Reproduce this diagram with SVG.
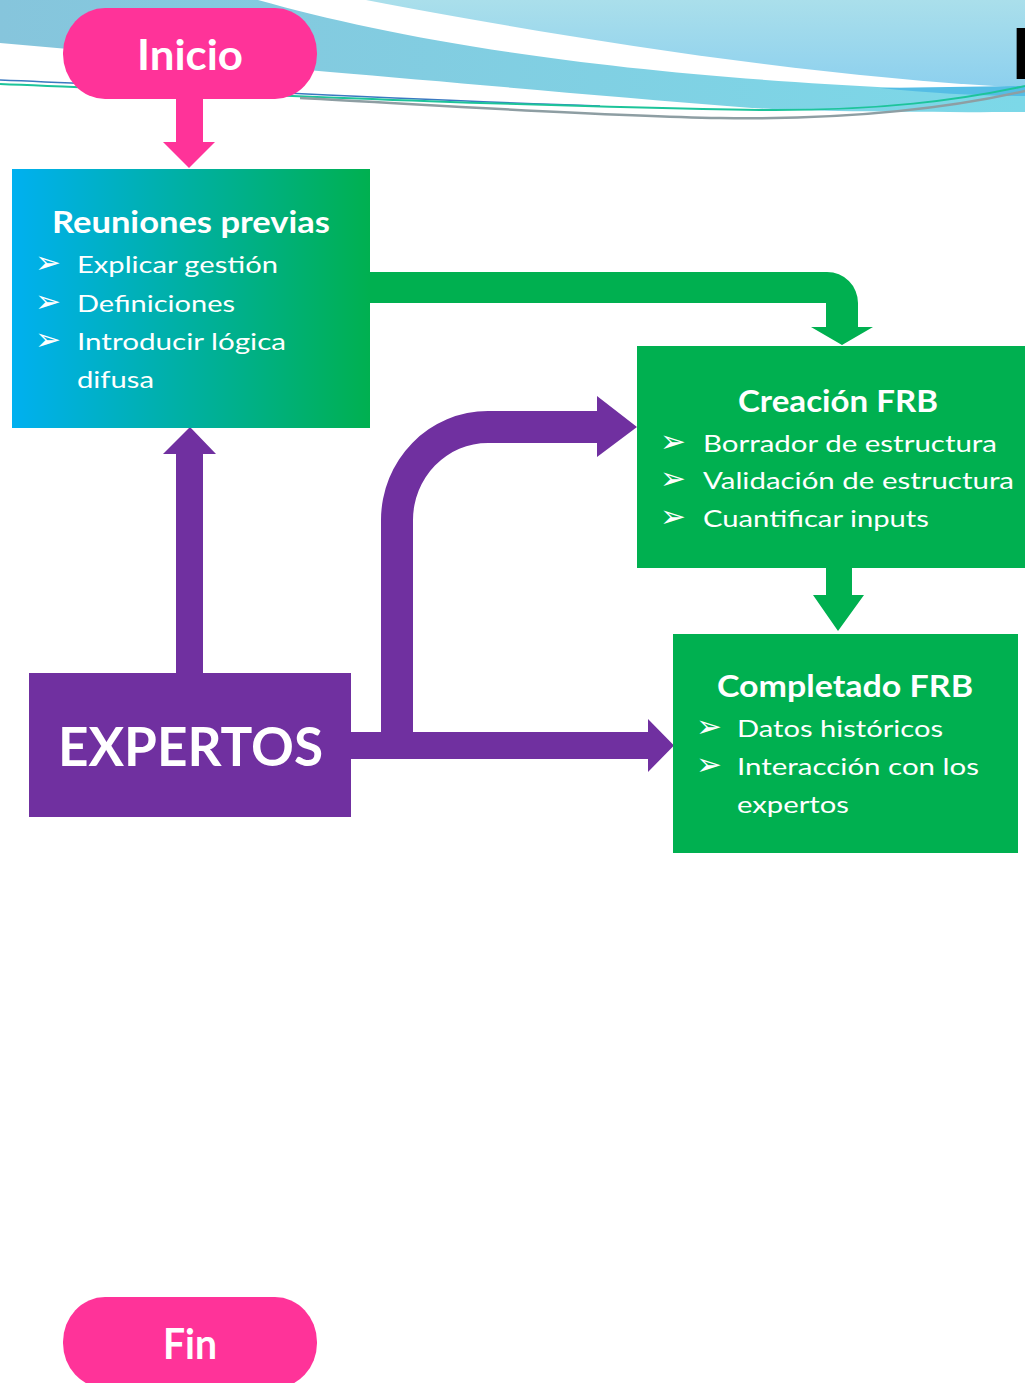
<svg xmlns="http://www.w3.org/2000/svg" width="1025" height="1383" viewBox="0 0 1025 1383">
<defs>
<linearGradient id="gReu" x1="0" y1="0" x2="1" y2="0"><stop offset="0" stop-color="#00B0F0"/><stop offset="1" stop-color="#00B050"/></linearGradient>
<linearGradient id="gLB" x1="0" y1="0" x2="1" y2="0"><stop offset="0" stop-color="#86C5DC"/><stop offset="1" stop-color="#7CD8E8"/></linearGradient>
<linearGradient id="gUR" x1="0" y1="0" x2="0" y2="1"><stop offset="0" stop-color="#AADFEB"/><stop offset="1" stop-color="#8DD0EE"/></linearGradient>
</defs>
<style>
.t{font-family:Lato,"Open Sans",sans-serif;fill:#fff}
.h{font-weight:700}
.li{font-size:24px}
.b{font-family:"DejaVu Sans",sans-serif;fill:#fff;font-size:31px}
.pink{fill:#FF3399}
.green{fill:#00B050}
.purple{fill:#7030A0}
</style>
<g id="banner">
<path d="M0,0 H258 C400,40 600,74 900,88 L1025,88 V112 C880,113 780,110 752,108 C600,96 450,82 330,72 L0,43 Z" fill="url(#gLB)"/>
<path d="M366,0 H1025 V86 L1013,87 C800,76 550,35 366,0 Z" fill="url(#gUR)"/>
<path d="M880,88 L1025,86 V96 C980,96 930,93 880,88 Z" fill="#55BDE5"/>
<path d="M0,80 C200,88 400,100 600,106" fill="none" stroke="#3A78C0" stroke-width="1.5"/>
<path d="M0,84 C200,92 500,106 760,110 C880,111 960,100 1025,86" fill="none" stroke="#1DC49A" stroke-width="2"/>
<path d="M300,98 C450,106 600,116 720,118 C850,120 950,108 1025,91" fill="none" stroke="#8E9EA3" stroke-width="2.5"/>
<text x="1011" y="79" font-family="Lato,'Open Sans',sans-serif" font-weight="700" font-size="70" fill="#000">F</text>
</g>
<g id="connectors">
<path class="pink" d="M176,99 H203 V142 H215 L189,168 L163,142 H176 Z"/>
<path class="purple" d="M176,673 V454 H163 L190,427 L216,454 H203 V673 Z"/>
<path class="green" d="M370,272 H827 A31,31 0 0 1 858,303 V327 H873 L842,345 L811,327 H826 V303 H370 Z"/>
<path class="green" d="M826,568 H852 V595 H864 L838,631 L813,595 H826 Z"/>
<path class="purple" d="M381,745 V520 A107,109 0 0 1 488,411 H597 V396 L637,427 L597,457 V443 H488 A75,77 0 0 0 413,520 V745 Z"/>
<path class="purple" d="M351,732 H648 V719 L674,745.5 L648,772 V759 H351 Z"/>
</g>
<g id="inicio">
<rect class="pink" x="63" y="8" width="254" height="91" rx="42" ry="45"/>
<text class="t h" x="137" y="70" font-size="42" textLength="106" lengthAdjust="spacingAndGlyphs">Inicio</text>
</g>
<g id="reuniones">
<rect x="12" y="169" width="358" height="259" fill="url(#gReu)"/>
<text class="t h" x="52" y="233" font-size="30" textLength="278" lengthAdjust="spacingAndGlyphs">Reuniones previas</text>
<text class="b" x="35" y="273">➢</text>
<text class="t li" x="77" y="273" textLength="201" lengthAdjust="spacingAndGlyphs">Explicar gestión</text>
<text class="b" x="35" y="312">➢</text>
<text class="t li" x="77" y="312" textLength="158" lengthAdjust="spacingAndGlyphs">Definiciones</text>
<text class="b" x="35" y="350">➢</text>
<text class="t li" x="77" y="350" textLength="209" lengthAdjust="spacingAndGlyphs">Introducir lógica</text>
<text class="t li" x="77" y="388" textLength="77" lengthAdjust="spacingAndGlyphs">difusa</text>
</g>
<g id="creacion">
<rect class="green" x="637" y="346" width="400" height="222"/>
<text class="t h" x="738" y="412" font-size="30" textLength="200" lengthAdjust="spacingAndGlyphs">Creación FRB</text>
<text class="b" x="660" y="452">➢</text>
<text class="t li" x="703" y="452" textLength="294" lengthAdjust="spacingAndGlyphs">Borrador de estructura</text>
<text class="b" x="660" y="489">➢</text>
<text class="t li" x="703" y="489" textLength="311" lengthAdjust="spacingAndGlyphs">Validación de estructura</text>
<text class="b" x="660" y="527">➢</text>
<text class="t li" x="703" y="527" textLength="226" lengthAdjust="spacingAndGlyphs">Cuantificar inputs</text>
</g>
<g id="completado">
<rect class="green" x="673" y="634" width="345" height="219"/>
<text class="t h" x="717" y="697" font-size="30" textLength="256" lengthAdjust="spacingAndGlyphs">Completado FRB</text>
<text class="b" x="696" y="737">➢</text>
<text class="t li" x="737" y="737" textLength="206" lengthAdjust="spacingAndGlyphs">Datos históricos</text>
<text class="b" x="696" y="775">➢</text>
<text class="t li" x="737" y="775" textLength="242" lengthAdjust="spacingAndGlyphs">Interacción con los</text>
<text class="t li" x="737" y="813" textLength="112" lengthAdjust="spacingAndGlyphs">expertos</text>
</g>
<g id="expertos">
<rect class="purple" x="29" y="673" width="322" height="144"/>
<text class="t h" x="58" y="766" font-size="54" textLength="265" lengthAdjust="spacingAndGlyphs">EXPERTOS</text>
</g>
<g id="fin">
<rect class="pink" x="63" y="1297" width="254" height="91" rx="42" ry="45"/>
<text class="t h" x="163" y="1359" font-size="42" textLength="54" lengthAdjust="spacingAndGlyphs">Fin</text>
</g>
</svg>
